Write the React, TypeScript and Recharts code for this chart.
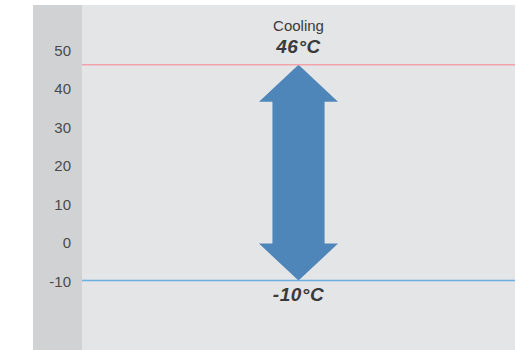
import { BarChart, Bar, XAxis, YAxis, ReferenceLine } from "recharts";

// values
const modes = ["Cooling"];
const highs = [46];
const lows = [-10];
const yTicks = [-10, 0, 10, 20, 30, 40, 50];

const data = modes.map((name, i) => ({
  name,
  high: highs[i],
  low: lows[i],
  range: [lows[i], highs[i]],
}));

const ARROW = "#4f86b9";
const TEXT = "#3a3a3a";
const FONT = "'Liberation Sans', Arial, sans-serif";

function DoubleArrow(props: any) {
  const { x, y, width, height, payload } = props;
  const cx = x + width / 2;
  const sw = width * 0.33;
  const hh = 37;
  const bottom = y + height;
  const pts = [
    [cx, y],
    [x + width, y + hh],
    [cx + sw, y + hh],
    [cx + sw, bottom - hh],
    [x + width, bottom - hh],
    [cx, bottom],
    [x, bottom - hh],
    [cx - sw, bottom - hh],
    [cx - sw, y + hh],
    [x, y + hh],
  ]
    .map((p) => p.join(","))
    .join(" ");
  return (
    <g>
      <polygon points={pts} fill={ARROW} />
      <text x={cx} y={y - 34} textAnchor="middle" fontSize={15} fill={TEXT} fontFamily={FONT}>
        {payload.name}
      </text>
      <text
        x={cx}
        y={y - 12}
        textAnchor="middle"
        fontSize={19}
        fontWeight="bold"
        fontStyle="italic"
        fill={TEXT}
        fontFamily={FONT}
        letterSpacing={0.5}
      >
        {payload.high}°C
      </text>
      <text
        x={cx}
        y={bottom + 20}
        textAnchor="middle"
        fontSize={19}
        fontWeight="bold"
        fontStyle="italic"
        fill={TEXT}
        fontFamily={FONT}
        letterSpacing={0.5}
      >
        {payload.low}°C
      </text>
    </g>
  );
}

export default function App() {
  return (
    <div style={{ position: "fixed", left: 0, top: 0, width: 532, height: 350, background: "#fff" }}>
      {/* darker strip behind the y axis */}
      <div
        style={{
          position: "absolute",
          left: 33,
          top: 5,
          width: 49,
          height: 345,
          background: "#d1d2d4",
        }}
      />
      <div style={{ position: "absolute", left: 0, top: 0 }}>
        <BarChart
          width={532}
          height={350}
          data={data}
          margin={{ top: 5, right: 17, bottom: 0, left: 33 }}
        >
          <rect x={82} y={5} width={433} height={345} fill="#e4e5e7" />
          <XAxis dataKey="name" hide />
          <YAxis
            width={49}
            domain={[-28, 61.5]}
            ticks={yTicks}
            axisLine={false}
            tickLine={false}
            tickSize={6}
            tickMargin={5}
            tick={{ fontSize: 15, fill: "#4a4a4a", fontFamily: FONT, dy: 1 }}
          />
          <ReferenceLine y={highs[0]} stroke="#f0a3aa" strokeWidth={1.5} />
          <ReferenceLine y={lows[0]} stroke="#6aafe2" strokeWidth={1.5} />
          <Bar dataKey="range" barSize={79} shape={DoubleArrow} isAnimationActive={false} />
        </BarChart>
      </div>
    </div>
  );
}
